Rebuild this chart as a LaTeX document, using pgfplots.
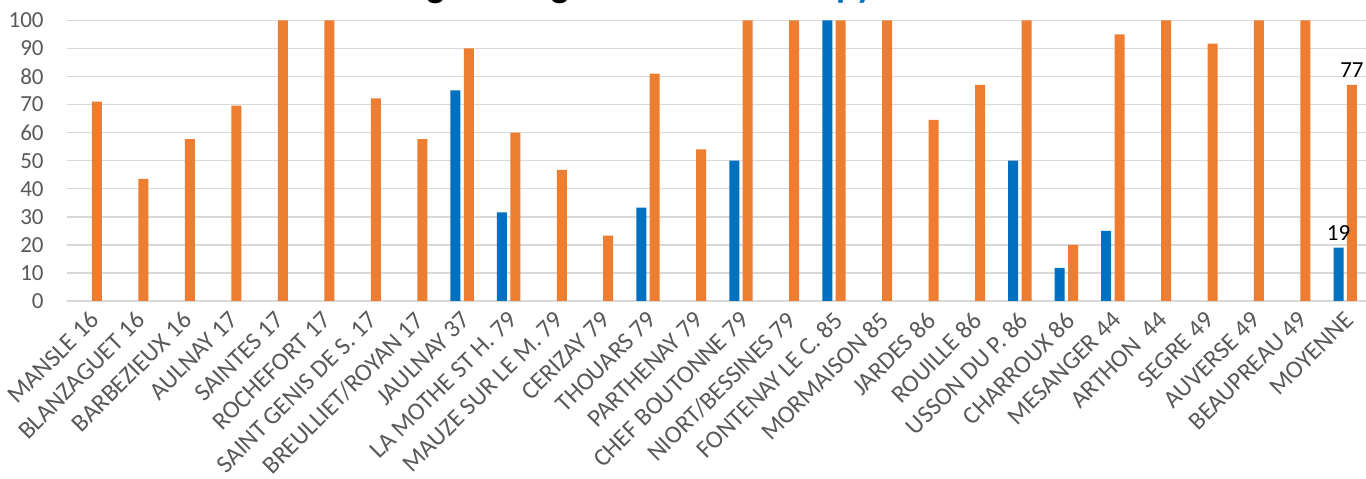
\documentclass[border=0pt]{standalone}
\usepackage{fontspec}
\setmainfont{Carlito}
\usepackage{pgfplots}
\pgfplotsset{compat=1.18}
\definecolor{orng}{HTML}{ED7D31}
\definecolor{blu}{HTML}{0070C0}
\definecolor{grd}{HTML}{D9D9D9}
\definecolor{txt}{HTML}{595959}
\begin{document}
\begin{tikzpicture}
\begin{axis}[
    scale only axis,
    width=650.75pt, height=140.35pt,
    ybar=1.7pt, bar width=5pt,
    xmin=-0.5, xmax=27.5,
    ymin=0, ymax=100,
    ytick={0,10,...,100},
    xtick={0,...,27},
    xticklabels={MANSLE 16,BLANZAGUET 16,BARBEZIEUX 16,AULNAY 17,SAINTES 17,ROCHEFORT 17,SAINT GENIS DE S. 17,BREULLIET/ROYAN 17,JAULNAY 37,LA MOTHE ST H. 79,MAUZE SUR LE M. 79,CERIZAY 79,THOUARS 79,PARTHENAY 79,CHEF BOUTONNE 79,NIORT/BESSINES 79,FONTENAY LE C. 85,MORMAISON 85,JARDES 86,ROUILLE 86,USSON DU P. 86,CHARROUX 86,MESANGER 44,ARTHON~~44,SEGRE 49,AUVERSE 49,BEAUPREAU 49,MOYENNE},
    xticklabel style={xshift=-1pt, yshift=0pt, rotate=45, anchor=north east, inner sep=0pt, font=\fontsize{12.5}{14}\selectfont, text=txt},
    yticklabel style={inner sep=0pt, xshift=-11.5pt, font=\fontsize{11.5}{13}\selectfont, text=txt},
    /pgf/number format/assume math mode=true,
    ymajorgrids,
    major grid style={draw=grd, line width=0.75pt},
    axis line style={draw=none},
    tick style={draw=none},
    title={\textbf{\%age émergence \textcolor{orng}{sésamies} et \textcolor{blu}{pyrales}}},
    title style={at={(0.4587,1.040)}, anchor=base, yshift=0pt, font=\fontsize{18.5}{20}\selectfont},
    point meta=explicit symbolic,
    nodes near coords,
    every node near coord/.append style={font=\fontsize{11.5}{13}\selectfont, text=black},
]
% pyrales
\addplot[fill=blu, draw=none] coordinates {
    (8,75) [] (9,31.6) [] (12,33.3) [] (14,50) [] (16,100) []
    (20,50) [] (21,11.8) [] (22,25) [] (27,19) [19]
};
% sesamies
\addplot[fill=orng, draw=none] coordinates {
    (0,71) [] (1,43.5) [] (2,57.7) [] (3,69.6) [] (4,100) [] (5,100) []
    (6,72.2) [] (7,57.7) [] (8,90) [] (9,60) [] (10,46.7) [] (11,23.3) []
    (12,81) [] (13,54) [] (14,100) [] (15,100) [] (16,100) [] (17,100) []
    (18,64.5) [] (19,77) [] (20,100) [] (21,20) [] (22,95) [] (23,100) []
    (24,91.7) [] (25,100) [] (26,100) [] (27,77) [77]
};
\end{axis}
\pgfresetboundingbox
\path[use as bounding box] ([xshift=-33.5pt,yshift=-89pt]current axis.south west) rectangle ([xshift=-1.25pt,yshift=10.15pt]current axis.north east);
\end{tikzpicture}
\end{document}
